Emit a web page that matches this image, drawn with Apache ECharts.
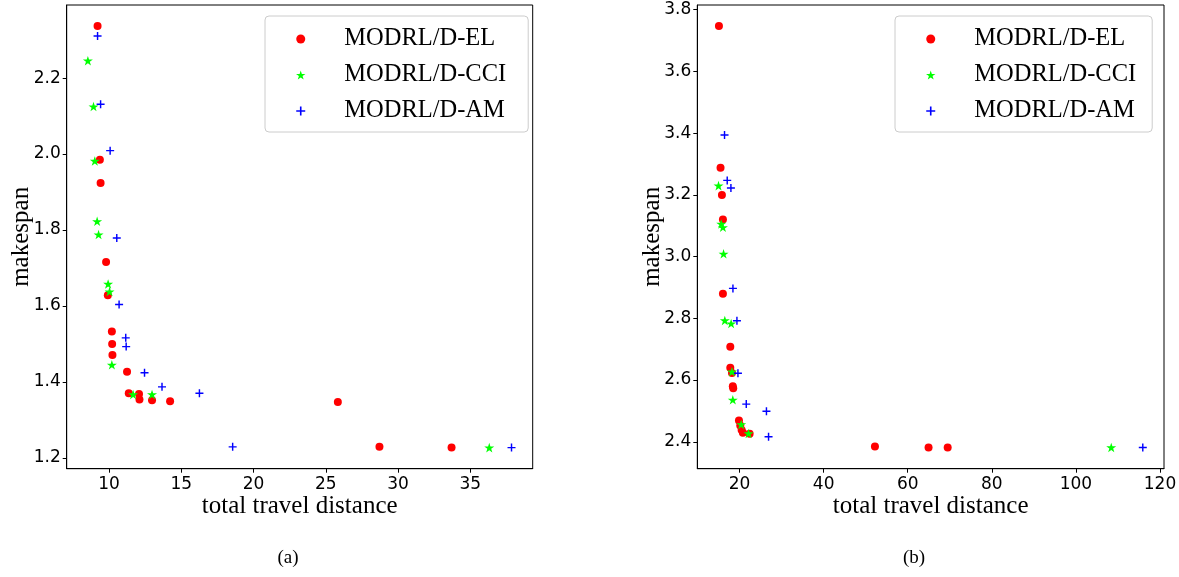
<!DOCTYPE html>
<html>
<head>
<meta charset="utf-8">
<script src="https://cdn.jsdelivr.net/npm/echarts@6/dist/echarts.min.js"></script>
<style>
html,body{margin:0;padding:0;background:#fff;}
#chart{width:1179px;height:577px;}
</style>
</head>
<body>
<div id="chart"></div>
<script>
// ---- data: panel (a)
const seriesNames = ['MODRL/D-EL', 'MODRL/D-CCI', 'MODRL/D-AM'];
const a_EL_x = [9.2, 9.36, 9.41, 9.79, 9.91, 10.19, 10.21, 10.23, 11.24, 11.36, 12.07, 12.10, 12.97, 14.22, 25.83, 28.71, 33.7];
const a_EL_y = [2.337, 1.985, 1.924, 1.716, 1.628, 1.533, 1.500, 1.471, 1.427, 1.370, 1.368, 1.354, 1.352, 1.349, 1.347, 1.229, 1.227];
const a_CCI_x = [8.53, 8.92, 9.01, 9.17, 9.27, 9.93, 10.03, 10.19, 11.66, 12.97, 36.31];
const a_CCI_y = [2.246, 2.125, 1.982, 1.823, 1.788, 1.658, 1.638, 1.445, 1.367, 1.367, 1.227];
const a_AM_x = [9.2, 9.41, 10.07, 10.53, 10.69, 11.15, 11.18, 12.45, 13.66, 16.25, 18.55, 37.85];
const a_AM_y = [2.311, 2.131, 2.009, 1.779, 1.604, 1.516, 1.493, 1.424, 1.387, 1.370, 1.229, 1.227];
// ---- data: panel (b)
const b_EL_x = [15.1, 15.48, 15.81, 16.05, 16.05, 17.8, 17.8, 18.2, 18.4, 18.5, 19.86, 20.17, 20.5, 20.8, 22.4, 52.2, 64.95, 69.5];
const b_EL_y = [3.747, 3.288, 3.200, 3.120, 2.880, 2.708, 2.640, 2.623, 2.580, 2.573, 2.469, 2.453, 2.438, 2.429, 2.426, 2.385, 2.381, 2.381];
const b_CCI_x = [15.0, 15.65, 16.05, 16.2, 16.5, 18.0, 18.2, 18.4, 20.4, 22.14, 108.4];
const b_CCI_y = [3.230, 3.106, 3.095, 3.009, 2.793, 2.783, 2.627, 2.536, 2.456, 2.427, 2.3815];
const b_AM_x = [16.43, 17.07, 17.95, 18.43, 19.38, 19.62, 21.6, 26.4, 26.9, 115.9];
const b_AM_y = [3.394, 3.247, 3.222, 2.897, 2.792, 2.622, 2.522, 2.499, 2.416, 2.3815];
// ---- tick labels
const a_xTicks = [10, 15, 20, 25, 30, 35];
const a_yTicks = [1.2, 1.4, 1.6, 1.8, 2.0, 2.2];
const b_xTicks = [20, 40, 60, 80, 100, 120];
const b_yTicks = [2.4, 2.6, 2.8, 3.0, 3.2, 3.4, 3.6, 3.8];
const xTitle = 'total travel distance';
const yTitle = 'makespan';
const captions = ['(a)', '(b)'];

const zip = (xs, ys) => xs.map((x, i) => [x, ys[i]]);
function lim(arrs) {
  const all = [].concat(...arrs);
  const mn = Math.min(...all), mx = Math.max(...all), r = mx - mn;
  return [mn - 0.05 * r, mx + 0.05 * r];
}
const aX = lim([a_EL_x, a_CCI_x, a_AM_x]), aY = lim([a_EL_y, a_CCI_y, a_AM_y]);
const bX = lim([b_EL_x, b_CCI_x, b_AM_x]), bY = lim([b_EL_y, b_CCI_y, b_AM_y]);

const STAR = 'path://M50 0 L61.23 34.55 L97.55 34.55 L68.17 55.9 L79.39 90.45 L50 69.1 L20.61 90.45 L31.83 55.9 L2.45 34.55 L38.77 34.55 Z';
const PLUS = 'path://M4.1,0H5.9V4.1H10V5.9H5.9V10H4.1V5.9H0V4.1H4.1Z';
const styles = [
  {symbol: 'circle', symbolSize: 8, color: '#ff0000'},
  {symbol: STAR, symbolSize: 10, color: '#00ff00'},
  {symbol: PLUS, symbolSize: 8, color: '#0000ff'}
];

const tickFont = {fontFamily: 'DejaVu Sans', fontSize: 17, color: '#000'};
const serif = 'Liberation Serif';

function xAxis(gi, range, ticks) {
  return {
    type: 'value', gridIndex: gi, min: range[0], max: range[1],
    splitLine: {show: false},
    axisLine: {show: true, onZero: false, lineStyle: {color: '#000', width: 1}},
    axisTick: {show: true, length: 4, customValues: ticks, lineStyle: {color: '#000'}},
    axisLabel: Object.assign({customValues: ticks, margin: 7, formatter: v => String(v)}, tickFont),
    name: xTitle, nameLocation: 'middle', nameGap: 25, nameMoveOverlap: false,
    nameTextStyle: {fontFamily: serif, fontSize: 25, color: '#000'}
  };
}
function yAxis(gi, range, ticks) {
  return {
    type: 'value', gridIndex: gi, min: range[0], max: range[1],
    splitLine: {show: false},
    axisLine: {show: true, onZero: false, lineStyle: {color: '#000', width: 1}},
    axisTick: {show: true, length: 4, customValues: ticks, lineStyle: {color: '#000'}},
    axisLabel: Object.assign({customValues: ticks, margin: 6, formatter: v => v.toFixed(1)}, tickFont),
    name: yTitle, nameLocation: 'middle', nameRotate: 90, nameGap: 32.5, nameMoveOverlap: false,
    nameTextStyle: {fontFamily: serif, fontSize: 25, color: '#000'}
  };
}

const panelData = [
  [zip(a_EL_x, a_EL_y), zip(a_CCI_x, a_CCI_y), zip(a_AM_x, a_AM_y)],
  [zip(b_EL_x, b_EL_y), zip(b_CCI_x, b_CCI_y), zip(b_AM_x, b_AM_y)]
];
const series = [];
panelData.forEach((pd, gi) => {
  pd.forEach((d, si) => {
    series.push({
      type: 'scatter', name: seriesNames[si], xAxisIndex: gi, yAxisIndex: gi,
      data: d, symbol: styles[si].symbol, symbolSize: styles[si].symbolSize,
      symbolKeepAspect: true,
      itemStyle: {color: styles[si].color, opacity: 1},
      emphasis: {disabled: true}, animation: false
    });
  });
});

function legend(left, rightPad) {
  return {
    orient: 'vertical', left: left, top: 16,
    data: seriesNames, selectedMode: false,
    itemWidth: 49, itemHeight: 9, itemGap: 10,
    padding: [10, rightPad, 8, 31],
    borderColor: '#cccccc', borderWidth: 1, borderRadius: 4,
    backgroundColor: 'rgba(255,255,255,0.8)',
    textStyle: {fontFamily: serif, fontSize: 24.5, color: '#000', lineHeight: 26, padding: [0, 0, 0, 14]}
  };
}

const chart = echarts.init(document.getElementById('chart'), null, {renderer: 'canvas'});
chart.setOption({
  animation: false,
  backgroundColor: '#fff',
  grid: [
    {left: 66.7, top: 5, width: 466, height: 463.7, show: true, borderColor: '#000', borderWidth: 1, backgroundColor: 'transparent', outerBoundsMode: 'none'},
    {left: 697.3, top: 5, width: 466.7, height: 463.7, show: true, borderColor: '#000', borderWidth: 1, backgroundColor: 'transparent', outerBoundsMode: 'none'}
  ],
  xAxis: [xAxis(0, aX, a_xTicks), xAxis(1, bX, b_xTicks)],
  yAxis: [yAxis(0, aY, a_yTicks), yAxis(1, bY, b_yTicks)],
  legend: [legend(265, 22), legend(895, 16)],
  graphic: [
    {type: 'text', x: 288, y: 558, style: {text: captions[0], font: '19px "Liberation Serif"', fill: '#000', align: 'center', verticalAlign: 'middle'}},
    {type: 'text', x: 914, y: 558, style: {text: captions[1], font: '19px "Liberation Serif"', fill: '#000', align: 'center', verticalAlign: 'middle'}}
  ],
  series: series
});
</script>
</body>
</html>
